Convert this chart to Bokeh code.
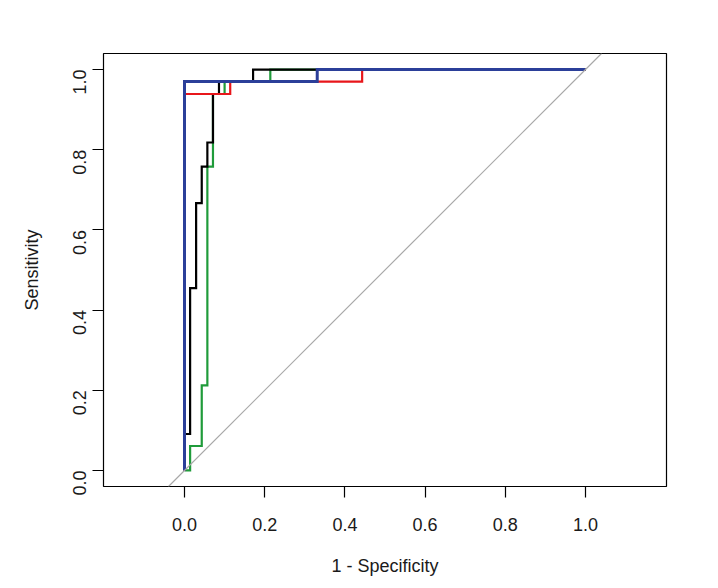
import math
from bokeh.plotting import figure
from bokeh.models import Range1d, FixedTicker, Slope
from bokeh.embed import file_html
from bokeh.resources import INLINE

# ---- data ----
tick_values = [0.0, 0.2, 0.4, 0.6, 0.8, 1.0]
tick_labels = {0.0: "0.0", 0.2: "0.2", 0.4: "0.4", 0.6: "0.6", 0.8: "0.8", 1.0: "1.0"}

green_fpr = [0.0, 0.014, 0.014, 0.043, 0.043, 0.057, 0.057, 0.071, 0.071, 0.100, 0.100, 0.214, 0.214, 1.0]
green_tpr = [0.0, 0.0, 0.061, 0.061, 0.212, 0.212, 0.758, 0.758, 0.939, 0.939, 0.970, 0.970, 1.0, 1.0]

black_fpr = [0.0, 0.0, 0.014, 0.014, 0.029, 0.029, 0.043, 0.043, 0.057, 0.057, 0.071, 0.071, 0.086, 0.086, 0.171, 0.171, 1.0]
black_tpr = [0.0, 0.091, 0.091, 0.455, 0.455, 0.667, 0.667, 0.758, 0.758, 0.818, 0.818, 0.939, 0.939, 0.970, 0.970, 1.0, 1.0]

red_fpr = [0.0, 0.0, 0.114, 0.114, 0.443, 0.443, 1.0]
red_tpr = [0.0, 0.939, 0.939, 0.970, 0.970, 1.0, 1.0]

blue_fpr = [0.0, 0.0, 0.331, 0.331, 1.0]
blue_tpr = [0.0, 0.970, 0.970, 1.0, 1.0]

x_title = "1 - Specificity"
y_title = "Sensitivity"

FONT = "Liberation Sans"

p = figure(width=708, height=580, output_backend="svg", toolbar_location=None,
           x_range=Range1d(-0.202, 1.202), y_range=Range1d(-0.04, 1.04),
           min_border_left=103, min_border_right=42, min_border_top=53, min_border_bottom=94)

p.xgrid.visible = False
p.ygrid.visible = False
p.background_fill_color = "white"
p.border_fill_color = "white"
p.outline_line_color = "black"
p.outline_line_width = 1.2

for ax in (p.xaxis[0], p.yaxis[0]):
    ax.ticker = FixedTicker(ticks=tick_values)
    ax.major_label_overrides = tick_labels
    ax.axis_line_color = None
    ax.major_tick_in = 0
    ax.major_tick_out = 11
    ax.major_tick_line_color = "black"
    ax.major_tick_line_width = 1.2
    ax.minor_tick_line_color = None
    ax.major_label_text_font = FONT
    ax.major_label_text_font_size = "18px"
    ax.major_label_text_color = "#1a1a1a"
    ax.axis_label_text_font = FONT
    ax.axis_label_text_font_size = "18px"
    ax.axis_label_text_font_style = "normal"
    ax.axis_label_text_color = "#1a1a1a"

p.xaxis.axis_label = x_title
p.yaxis.axis_label = y_title
p.xaxis.major_label_standoff = 20
p.xaxis.axis_label_standoff = 22
p.yaxis.major_label_orientation = math.pi / 2
p.yaxis.major_label_standoff = 13
p.yaxis.axis_label_standoff = 22

p.add_layout(Slope(gradient=1, y_intercept=0, line_color="#a8a8a8", line_width=1.2))

p.line(green_fpr, green_tpr, line_color="#1f9b3a", line_width=2.2, line_join="miter")
p.line(black_fpr, black_tpr, line_color="black", line_width=2.2, line_join="miter")
p.line(red_fpr, red_tpr, line_color="#e8161b", line_width=2.2, line_join="miter")
p.line(blue_fpr, blue_tpr, line_color="#2b3f99", line_width=3.0, line_join="miter")

open("out.html", "w").write(file_html(p, INLINE))
